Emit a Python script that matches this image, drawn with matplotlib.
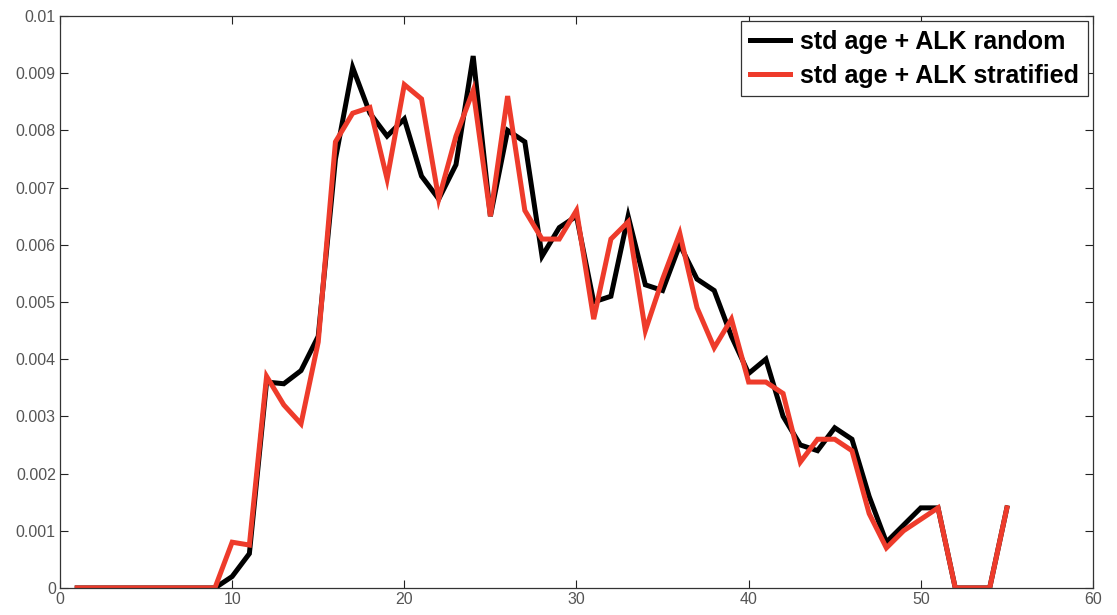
import numpy as np
import matplotlib
matplotlib.use('Agg')
import matplotlib.pyplot as plt

plt.rcParams['font.family'] = ['Liberation Sans', 'DejaVu Sans']

# --- data ---
ages = np.arange(1, 56)

alk_random = [
    0, 0, 0, 0, 0, 0, 0, 0, 0,
    0.0002, 0.0006, 0.0036, 0.00357, 0.0038, 0.0044, 0.0075, 0.0091, 0.0083,
    0.0079, 0.0082, 0.0072, 0.0068, 0.0074, 0.0093, 0.0065, 0.0080, 0.0078,
    0.0058, 0.0063, 0.0065, 0.0050, 0.0051, 0.0065, 0.0053, 0.0052, 0.0060,
    0.0054, 0.0052, 0.0044, 0.00375, 0.0040, 0.0030, 0.0025, 0.0024, 0.0028,
    0.0026, 0.0016, 0.0008, 0.0011, 0.0014, 0.0014, 0, 0, 0, 0.0014,
]

alk_stratified = [
    0, 0, 0, 0, 0, 0, 0, 0, 0,
    0.0008, 0.00075, 0.0037, 0.0032, 0.00287, 0.0043, 0.0078, 0.0083, 0.0084,
    0.00715, 0.0088, 0.00855, 0.0068, 0.0079, 0.0087, 0.0065, 0.0086, 0.0066,
    0.0061, 0.0061, 0.0066, 0.0047, 0.0061, 0.0064, 0.0045, 0.0054, 0.0062,
    0.0049, 0.0042, 0.0047, 0.0036, 0.0036, 0.0034, 0.0022, 0.0026, 0.0026,
    0.0024, 0.0013, 0.0007, 0.0010, 0.0012, 0.0014, 0, 0, 0, 0.0014,
]

labels = ['std age + ALK random', 'std age + ALK stratified']
x_ticks = [0, 10, 20, 30, 40, 50, 60]
y_ticks = [0, 0.001, 0.002, 0.003, 0.004, 0.005, 0.006, 0.007, 0.008, 0.009, 0.01]
y_tick_labels = ['0', '0.001', '0.002', '0.003', '0.004', '0.005',
                 '0.006', '0.007', '0.008', '0.009', '0.01']

# --- figure ---
fig = plt.figure(figsize=(11.17, 6.15), dpi=100)
ax = fig.add_axes([0.0537, 0.044, 0.9248, 0.930])

ax.plot(ages, alk_random, color='black', lw=3.6, label=labels[0],
        solid_joinstyle='miter')
ax.plot(ages, alk_stratified, color='#ee3b2b', lw=3.6, label=labels[1],
        solid_joinstyle='miter')

ax.set_xlim(0, 60)
ax.set_ylim(0, 0.01)
ax.set_xticks(x_ticks)
ax.set_yticks(y_ticks)
ax.set_yticklabels(y_tick_labels)

ax.tick_params(direction='in', length=6, width=0.8, top=True, right=True,
               labelsize=11.5, labelcolor='#555555', color='#222222', pad=3)
for s in ax.spines.values():
    s.set_color('#333333')
    s.set_linewidth(0.9)

leg = ax.legend(loc='upper right', fancybox=False, framealpha=1,
                edgecolor='#333333', borderaxespad=0.2, handlelength=1.6,
                handletextpad=0.4, labelspacing=0.4, borderpad=0.35,
                prop={'size': 18, 'weight': 'bold'})
leg.get_frame().set_linewidth(0.9)

fig.savefig('out.png', dpi=100)
